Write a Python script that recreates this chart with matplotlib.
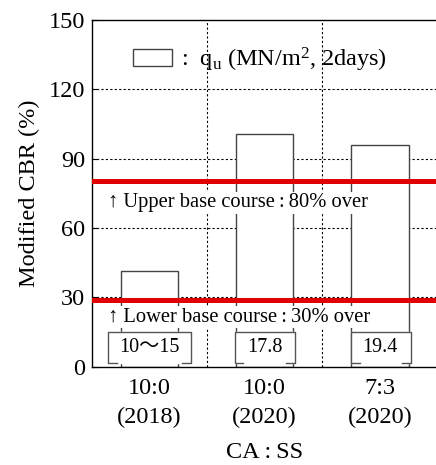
#!/usr/bin/env python3
"""
Modified CBR by CA:SS mix, with base course limits
"""

import matplotlib
matplotlib.use("Agg")
import matplotlib.pyplot as plt
from matplotlib.patches import Patch

plt.rcParams['font.family'] = ['Liberation Serif', 'Noto Sans CJK JP']
plt.rcParams['mathtext.default'] = 'regular'

# Data
mix_labels = ['10:0\n(2018)', '10:0\n(2020)', '7:3\n(2020)']
cbr_values = [41.5, 100.8, 95.8]
qu_labels = ['10〜15', '17.8', '19.4']
upper_limit = 80.3
lower_limit = 28.8

fig = plt.figure(figsize=(4.36, 4.65), dpi=100)
ax = fig.add_axes([0.211, 0.2115, 0.792, 0.7455])

x = list(range(len(mix_labels)))

# Bars
ax.bar(x, cbr_values, width=0.5, facecolor='white', edgecolor='#444444',
       linewidth=1.0, zorder=2)

# Grid (dotted)
for yv in [30, 60, 90, 120]:
    ax.axhline(yv, color='black', linestyle=(0, (2, 2)), linewidth=0.8, zorder=1)
for xv in [0.5, 1.5]:
    ax.axvline(xv, color='black', linestyle=(0, (2, 2)), linewidth=0.8, zorder=1)

# Limit lines
ax.axhline(upper_limit, color='#e00000', linewidth=3.6, zorder=4)
ax.axhline(lower_limit, color='#e00000', linewidth=3.6, zorder=4)

box_style = dict(facecolor='white', edgecolor='none', pad=1.0)
ax.text(-0.36, 71, '↑ Upper base course\u2009:\u200980% over', fontsize=14.8,
        va='center', ha='left', zorder=5, bbox=box_style)
ax.text(-0.36, 21.3, '↑ Lower base course\u2009:\u200930% over', fontsize=14.8,
        va='center', ha='left', zorder=5, bbox=box_style)

# qu value boxes (bracket style, open bottom)
fig.canvas.draw()
renderer = fig.canvas.get_renderer()
inv = ax.transData.inverted()
box_top, box_bot = 15.1, 1.6
for xi, lab in zip(x, qu_labels):
    t = ax.text(xi, 8.2, lab, fontsize=14.5, ha='center', va='center', zorder=7)
    bb = t.get_window_extent(renderer)
    (x0, _), (x1, _) = inv.transform([(bb.x0 - 15, 0), (bb.x1 + 15, 0)])
    corner = 0.075
    ax.fill_between([x0, x1], box_bot, box_top, color='white', zorder=5)
    ax.plot([x0 + corner, x0, x0, x1, x1, x1 - corner],
            [box_bot, box_bot, box_top, box_top, box_bot, box_bot],
            color='#555555', linewidth=1.0, zorder=6)

# Legend
leg = ax.legend(handles=[Patch(facecolor='white', edgecolor='#444444', linewidth=1.0)],
                labels=[':  q$_u$ (MN/m$^2$, 2days)'],
                loc='upper left', bbox_to_anchor=(0.09, 0.955), frameon=False,
                fontsize=17.5, handlelength=1.6, handleheight=0.75,
                handletextpad=0.4, borderaxespad=0)

# Axes
ax.set_xlim(-0.5, 2.5)
ax.set_ylim(0, 150)
ax.set_yticks([0, 30, 60, 90, 120, 150])
ax.set_xticks(x)
ax.set_xticklabels(mix_labels, fontsize=17.5, linespacing=1.5)
ax.tick_params(axis='y', direction='in', length=4, labelsize=17.5, pad=5)
ax.tick_params(axis='x', length=0, pad=8)
ax.set_ylabel('Modified CBR (%)', fontsize=17.5, labelpad=6)
ax.set_xlabel('CA\u2009:\u2009SS', fontsize=17.5, labelpad=10)
for s in ax.spines.values():
    s.set_linewidth(1.0)

plt.savefig('out.png', dpi=100)
print("Saved: out.png")
plt.close()
